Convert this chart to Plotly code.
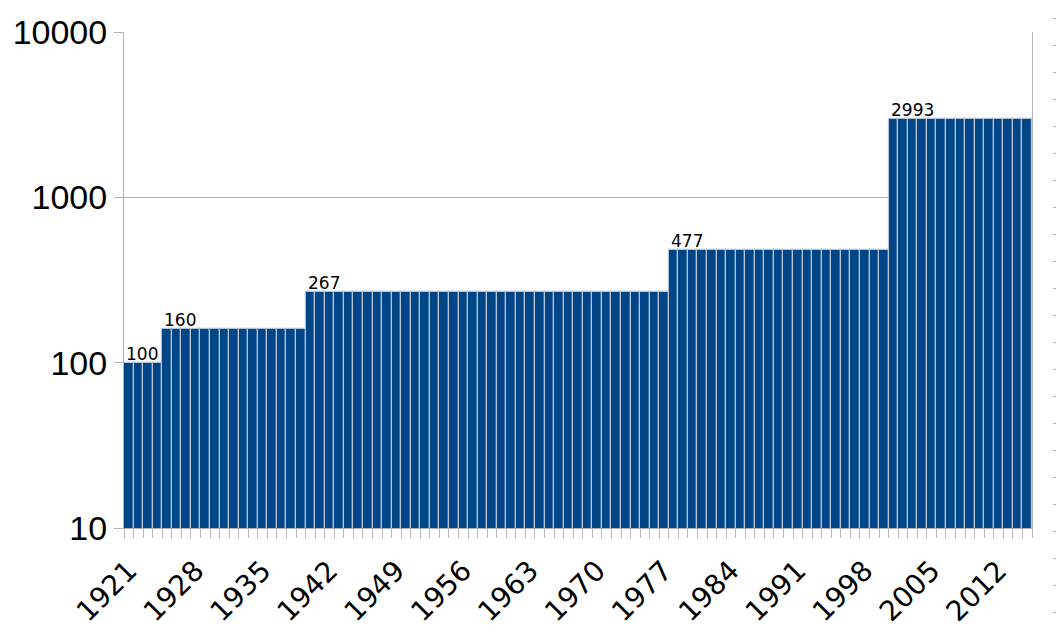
import math
import plotly.graph_objects as go

# anos (categorias) e valores
anos = list(range(1921, 2016))
valores = [
    100, 100, 100, 100,
    160, 160, 160, 160, 160, 160, 160, 160, 160, 160, 160, 160, 160, 160, 160,
    267, 267, 267, 267, 267, 267, 267, 267, 267, 267, 267, 267, 267, 267, 267,
    267, 267, 267, 267, 267, 267, 267, 267, 267, 267, 267, 267, 267, 267, 267,
    267, 267, 267, 267, 267, 267, 267, 267,
    477, 477, 477, 477, 477, 477, 477, 477, 477, 477, 477, 477, 477, 477, 477,
    477, 477, 477, 477, 477, 477, 477, 477,
    2993, 2993, 2993, 2993, 2993, 2993, 2993, 2993, 2993, 2993, 2993, 2993,
    2993, 2993, 2993,
]
anos_rotulo = [1921, 1928, 1935, 1942, 1949, 1956, 1963, 1970, 1977, 1984, 1991, 1998, 2005, 2012]
y_ticks = [10, 100, 1000, 10000]

azul = "#004586"
cinza = "#b3b3b3"

fig = go.Figure()
fig.add_trace(go.Bar(
    x=anos, y=valores,
    marker=dict(color=azul, line=dict(color="#b4c3d6", width=1.2)),
    hoverinfo="x+y",
))
# traco vazio so para desenhar o eixo secundario da direita
fig.add_trace(go.Scatter(x=[None], y=[None], xaxis="x2", yaxis="y2", hoverinfo="skip"))

# rotulo no primeiro ano de cada degrau
notas = []
for i, v in enumerate(valores):
    if i == 0 or v != valores[i - 1]:
        notas.append(dict(
            x=anos[i] - 0.5, y=math.log10(v), text=str(v),
            xanchor="left", yanchor="bottom", showarrow=False,
            font=dict(family="DejaVu Sans", size=17, color="black"),
            xshift=0, yshift=-3,
        ))

fig.update_layout(
    width=1056, height=625,
    margin=dict(l=116, r=0, t=10, b=21),
    paper_bgcolor="white", plot_bgcolor="white",
    bargap=0,
    showlegend=False,
    annotations=notas,
    xaxis=dict(
        domain=[0, 908 / 940],
        range=[1920.5, 2015.5],
        tickvals=anos_rotulo,
        ticktext=[str(a) for a in anos_rotulo],
        tickangle=-45,
        ticks="",
        ticklabelstandoff=14,
        minor=dict(ticks="outside", ticklen=9, tickcolor=cinza, tick0=1920.5, dtick=1, showgrid=False),
        tickfont=dict(family="DejaVu Sans", size=28, color="black"),
        showline=True, linecolor=cinza, linewidth=1,
        showgrid=False, zeroline=False, automargin=False,
    ),
    yaxis=dict(
        type="log",
        domain=[84 / 594, 580 / 594],
        range=[1, 4],
        tickvals=y_ticks,
        ticktext=[str(t) for t in y_ticks],
        ticks="outside", ticklen=9, tickcolor=cinza,
        tickfont=dict(family="Liberation Sans", size=34, color="black"),
        showgrid=True, gridcolor=cinza, gridwidth=1,
        showline=True, linecolor=cinza, mirror=True,
        zeroline=False, automargin=False,
    ),
    xaxis2=dict(domain=[0.97, 928 / 940], anchor="y2", visible=False, automargin=False),
    yaxis2=dict(
        anchor="x2", side="right",
        domain=[0, 1], range=[0, 22], dtick=1,
        ticks="outside", ticklen=12, tickcolor=cinza,
        showticklabels=False, showline=False, showgrid=False, zeroline=False,
        automargin=False,
    ),
)

fig.write_html("out.html")
